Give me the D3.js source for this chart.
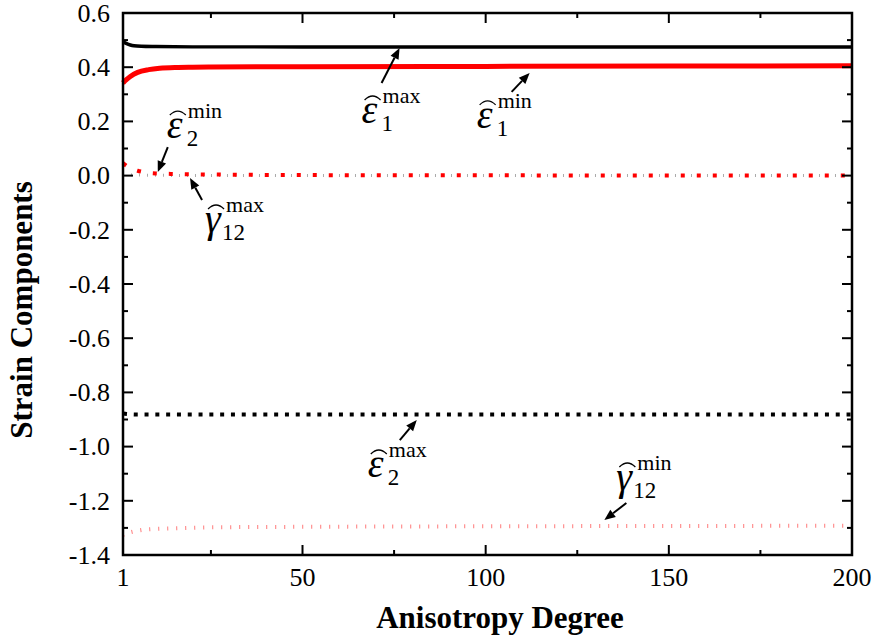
<!DOCTYPE html>
<html>
<head>
<meta charset="utf-8">
<script src="https://cdn.jsdelivr.net/npm/d3@7"></script>
<style>
  body { margin: 0; background: #fff; }
  svg { display: block; }
</style>
</head>
<body>
<svg id="chart" width="877" height="643"></svg>
<script>
// anisotropy degree samples and strain components
const eps1MaxX = [1, 2, 3, 4, 6, 10, 20, 50, 100, 150, 200];
const eps1Max = [0.494, 0.487, 0.482, 0.479, 0.477, 0.476, 0.475, 0.475, 0.475, 0.475, 0.475];

const eps1MinX = [1, 2, 3, 5, 8, 11, 16, 20, 25, 50, 100, 150, 200];
const eps1Min = [0.342, 0.355, 0.366, 0.381, 0.391, 0.396, 0.399, 0.400, 0.401, 0.402, 0.403, 0.404, 0.405];

const eps2MinX = [1, 2, 3, 5, 7, 10, 15, 25, 50, 100, 200];
const eps2Min = [0.046, 0.036, 0.028, 0.018, 0.012, 0.008, 0.006, 0.004, 0.002, 0.001, 0.0];

const gam12MaxX = [1, 5, 10, 50, 100, 200];
const gam12Max = [0.004, 0.002, 0.001, 0.0, 0.0, 0.0];

const eps2MaxX = [1, 2, 5, 50, 100, 200];
const eps2Max = [-0.878, -0.880, -0.882, -0.882, -0.882, -0.882];

const gam12MinX = [1, 2, 4, 8, 16, 25, 50, 100, 150, 200];
const gam12Min = [-1.326, -1.320, -1.313, -1.305, -1.301, -1.298, -1.296, -1.294, -1.293, -1.292];

const xMajorTicks = [1, 50, 100, 150, 200];
const xMinorTicks = [25, 75, 125, 175];
const yMajorTicks = [0.6, 0.4, 0.2, 0.0, -0.2, -0.4, -0.6, -0.8, -1.0, -1.2, -1.4];
const yMinorTicks = [0.5, 0.3, 0.1, -0.1, -0.3, -0.5, -0.7, -0.9, -1.1, -1.3];

const serif = 'Liberation Serif';
const svg = d3.select('#chart');
const mLeft = 123, mRight = 852, mTop = 13, mBottom = 555;

const x = d3.scaleLinear().domain([1, 200]).range([mLeft, mRight]);
const y = d3.scaleLinear().domain([-1.4, 0.6]).range([mBottom, mTop]);

const line = d3.line()
  .x(d => x(d[0]))
  .y(d => y(d[1]))
  .curve(d3.curveMonotoneX);

const zip = (xs, ys) => xs.map((v, i) => [v, ys[i]]);

const plot = svg.append('g');

// thin series first so the thick ones sit on top
plot.append('path')
  .attr('d', line(zip(gam12MinX, gam12Min)))
  .attr('fill', 'none')
  .attr('stroke', '#ff7a7a')
  .attr('stroke-width', 4)
  .attr('stroke-dasharray', '1,8');

plot.append('path')
  .attr('d', line(zip(gam12MaxX, gam12Max)))
  .attr('fill', 'none')
  .attr('stroke', '#aaa')
  .attr('stroke-width', 3)
  .attr('stroke-dasharray', '1,7');

plot.append('path')
  .attr('d', line(zip(eps2MaxX, eps2Max)))
  .attr('fill', 'none')
  .attr('stroke', '#000')
  .attr('stroke-width', 4)
  .attr('stroke-dasharray', '4,6.8');

plot.append('path')
  .attr('d', line(zip(eps2MinX, eps2Min)))
  .attr('fill', 'none')
  .attr('stroke', '#f00')
  .attr('stroke-width', 4)
  .attr('stroke-dasharray', '4,12');

plot.append('path')
  .attr('d', line(zip(eps1MaxX, eps1Max)))
  .attr('fill', 'none')
  .attr('stroke', '#000')
  .attr('stroke-width', 3.5);

plot.append('path')
  .attr('d', line(zip(eps1MinX, eps1Min)))
  .attr('fill', 'none')
  .attr('stroke', '#f00')
  .attr('stroke-width', 5);

// axes: inward ticks on all four sides, labels on bottom and left
const axG = svg.append('g');
const tickLine = (x1, y1, x2, y2) => axG.append('line')
  .attr('x1', x1).attr('y1', y1).attr('x2', x2).attr('y2', y2)
  .attr('stroke', '#000').attr('stroke-width', 2);

xMajorTicks.forEach(t => {
  tickLine(x(t), mBottom, x(t), mBottom - 10);
  tickLine(x(t), mTop, x(t), mTop + 10);
});
xMinorTicks.forEach(t => {
  tickLine(x(t), mBottom, x(t), mBottom - 5);
  tickLine(x(t), mTop, x(t), mTop + 5);
});
yMajorTicks.forEach(t => {
  tickLine(mLeft, y(t), mLeft + 10, y(t));
  tickLine(mRight, y(t), mRight - 10, y(t));
});
yMinorTicks.forEach(t => {
  tickLine(mLeft, y(t), mLeft + 5, y(t));
  tickLine(mRight, y(t), mRight - 5, y(t));
});

axG.append('rect')
  .attr('x', mLeft).attr('y', mTop)
  .attr('width', mRight - mLeft).attr('height', mBottom - mTop)
  .attr('fill', 'none')
  .attr('stroke', '#000')
  .attr('stroke-width', 2.5);

axG.selectAll('text.xl')
  .data(xMajorTicks)
  .enter().append('text')
  .attr('class', 'xl')
  .attr('x', d => x(d))
  .attr('y', mBottom + 31)
  .attr('text-anchor', 'middle')
  .attr('font-family', serif)
  .attr('font-size', 26)
  .text(d => d);

axG.selectAll('text.yl')
  .data(yMajorTicks)
  .enter().append('text')
  .attr('class', 'yl')
  .attr('x', mLeft - 13)
  .attr('y', d => y(d))
  .attr('dy', '0.34em')
  .attr('text-anchor', 'end')
  .attr('font-family', serif)
  .attr('font-size', 26)
  .text(d => d3.format('.1f')(d).replace('\u2212', '-'));

svg.append('text')
  .attr('x', 500)
  .attr('y', 628)
  .attr('text-anchor', 'middle')
  .attr('font-family', serif)
  .attr('font-size', 31)
  .attr('font-weight', 'bold')
  .text('Anisotropy Degree');

svg.append('text')
  .attr('transform', 'translate(32,310) rotate(-90)')
  .attr('text-anchor', 'middle')
  .attr('font-family', serif)
  .attr('font-size', 31)
  .attr('font-weight', 'bold')
  .text('Strain Components');

// annotations: arrow tip in data units, tail and label offsets in px
const notes = [
  { sym: 'ε', sub: '1', sup: 'max', tx: 76.5, ty: 0.471, ax: -18, ay: 35, lx: -38, ly: 75 },
  { sym: 'ε', sub: '1', sup: 'min', tx: 112, ty: 0.379, ax: -18, ay: 19, lx: -53, ly: 55 },
  { sym: 'ε', sub: '2', sup: 'min', tx: 10.5, ty: 0.013, ax: 10, ay: -25, lx: 9, ly: -34 },
  { sym: 'γ', sub: '12', sup: 'max', tx: 19.3, ty: -0.009, ax: 12, ay: 22, lx: 15, ly: 54 },
  { sym: 'ε', sub: '2', sup: 'max', tx: 81.2, ty: -0.902, ax: -17, ay: 20, lx: -49, ly: 57 },
  { sym: 'γ', sub: '12', sup: 'min', tx: 132.4, ty: -1.271, ax: 22, ay: -17, lx: 12, ly: -30 }
];

const ann = svg.append('g');
notes.forEach(n => {
  const px = x(n.tx), py = y(n.ty);
  const tailX = px + n.ax, tailY = py + n.ay;
  const ang = Math.atan2(py - tailY, px - tailX);
  const hl = 11, hw = 4.5;
  const bx = px - hl * Math.cos(ang), by = py - hl * Math.sin(ang);
  ann.append('line')
    .attr('x1', tailX).attr('y1', tailY).attr('x2', bx).attr('y2', by)
    .attr('stroke', '#000').attr('stroke-width', 2);
  ann.append('path')
    .attr('d', `M${px},${py}L${bx + hw * Math.sin(ang)},${by - hw * Math.cos(ang)}L${bx - hw * Math.sin(ang)},${by + hw * Math.cos(ang)}Z`)
    .attr('fill', '#000');

  const sx = px + n.lx, sy = py + n.ly;
  ann.append('text')
    .attr('x', sx).attr('y', sy)
    .attr('font-family', serif)
    .attr('font-size', 40)
    .attr('font-style', 'italic')
    .text(n.sym);
  ann.append('path')
    .attr('d', `M${sx + 3},${sy - 23}Q${sx + 11},${sy - 31} ${sx + 19},${sy - 23}`)
    .attr('fill', 'none')
    .attr('stroke', '#000')
    .attr('stroke-width', 1.3);
  ann.append('text')
    .attr('x', sx + (n.sym === 'γ' ? 17 : 20)).attr('y', sy + 8)
    .attr('font-family', serif)
    .attr('font-size', 23)
    .text(n.sub);
  ann.append('text')
    .attr('x', sx + 21).attr('y', sy - 20)
    .attr('font-family', serif)
    .attr('font-size', 22)
    .text(n.sup);
});
</script>
</body>
</html>
